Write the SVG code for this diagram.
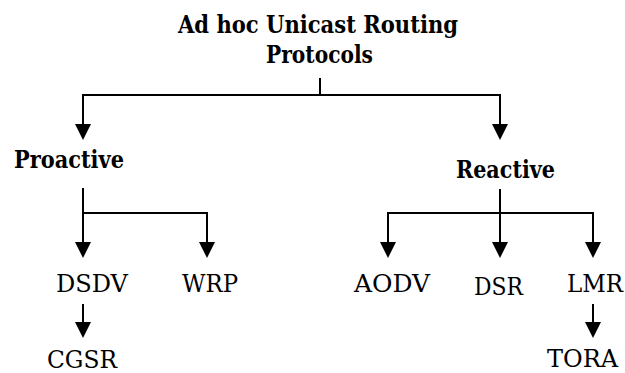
<svg xmlns="http://www.w3.org/2000/svg" width="625" height="373" viewBox="0 0 625 373">
  <style>
    .bg { fill: #ffffff; }
    text { font-family: 'DejaVu Serif', 'Liberation Serif', serif; font-size: 24px; fill: #000; text-anchor: middle; }
    .head { font-weight: bold; }
    .link { fill: none; stroke: #000; stroke-width: 2; }
  </style>
  <defs>
    <marker id="arrow" viewBox="0 0 16 16" refX="14" refY="8" markerWidth="16" markerHeight="16" markerUnits="userSpaceOnUse" orient="auto">
      <path d="M0,0 L16,8 L0,16 z" fill="#000"/>
    </marker>
  </defs>
  <rect class="bg" x="0" y="0" width="625" height="373"/>

  <g id="connectors">
    <!-- root to categories -->
    <path class="link" d="M320,78 V95"/>
    <path class="link" d="M320,95 H83 V138" marker-end="url(#arrow)"/>
    <path class="link" d="M320,95 H500 V138" marker-end="url(#arrow)"/>
    <!-- proactive branch -->
    <path class="link" d="M83,188 V256" marker-end="url(#arrow)"/>
    <path class="link" d="M83,213 H207 V256" marker-end="url(#arrow)"/>
    <!-- reactive branch -->
    <path class="link" d="M500,189 V256" marker-end="url(#arrow)"/>
    <path class="link" d="M500,213 H388 V256" marker-end="url(#arrow)"/>
    <path class="link" d="M500,213 H593 V256" marker-end="url(#arrow)"/>
    <!-- second level -->
    <path class="link" d="M83,304 V336" marker-end="url(#arrow)"/>
    <path class="link" d="M593,304 V336" marker-end="url(#arrow)"/>
  </g>

  <g id="root">
    <text class="head" x="318" y="33" textLength="280" lengthAdjust="spacingAndGlyphs">Ad hoc Unicast Routing</text>
    <text class="head" x="319.5" y="63" textLength="107" lengthAdjust="spacingAndGlyphs">Protocols</text>
  </g>
  <g id="proactive"><text class="head" x="69" y="168" textLength="110" lengthAdjust="spacingAndGlyphs">Proactive</text></g>
  <g id="reactive"><text class="head" x="505.5" y="178" textLength="99" lengthAdjust="spacingAndGlyphs">Reactive</text></g>
  <g id="dsdv"><text x="92" y="292" textLength="72" lengthAdjust="spacingAndGlyphs">DSDV</text></g>
  <g id="wrp"><text x="210" y="292" textLength="56" lengthAdjust="spacingAndGlyphs">WRP</text></g>
  <g id="cgsr"><text x="82" y="368" textLength="70" lengthAdjust="spacingAndGlyphs">CGSR</text></g>
  <g id="aodv"><text x="392" y="292" textLength="76" lengthAdjust="spacingAndGlyphs">AODV</text></g>
  <g id="dsr"><text x="498.5" y="295" textLength="49" lengthAdjust="spacingAndGlyphs">DSR</text></g>
  <g id="lmr"><text x="595" y="292" textLength="56" lengthAdjust="spacingAndGlyphs">LMR</text></g>
  <g id="tora"><text x="582.5" y="367" textLength="71" lengthAdjust="spacingAndGlyphs">TORA</text></g>
</svg>
